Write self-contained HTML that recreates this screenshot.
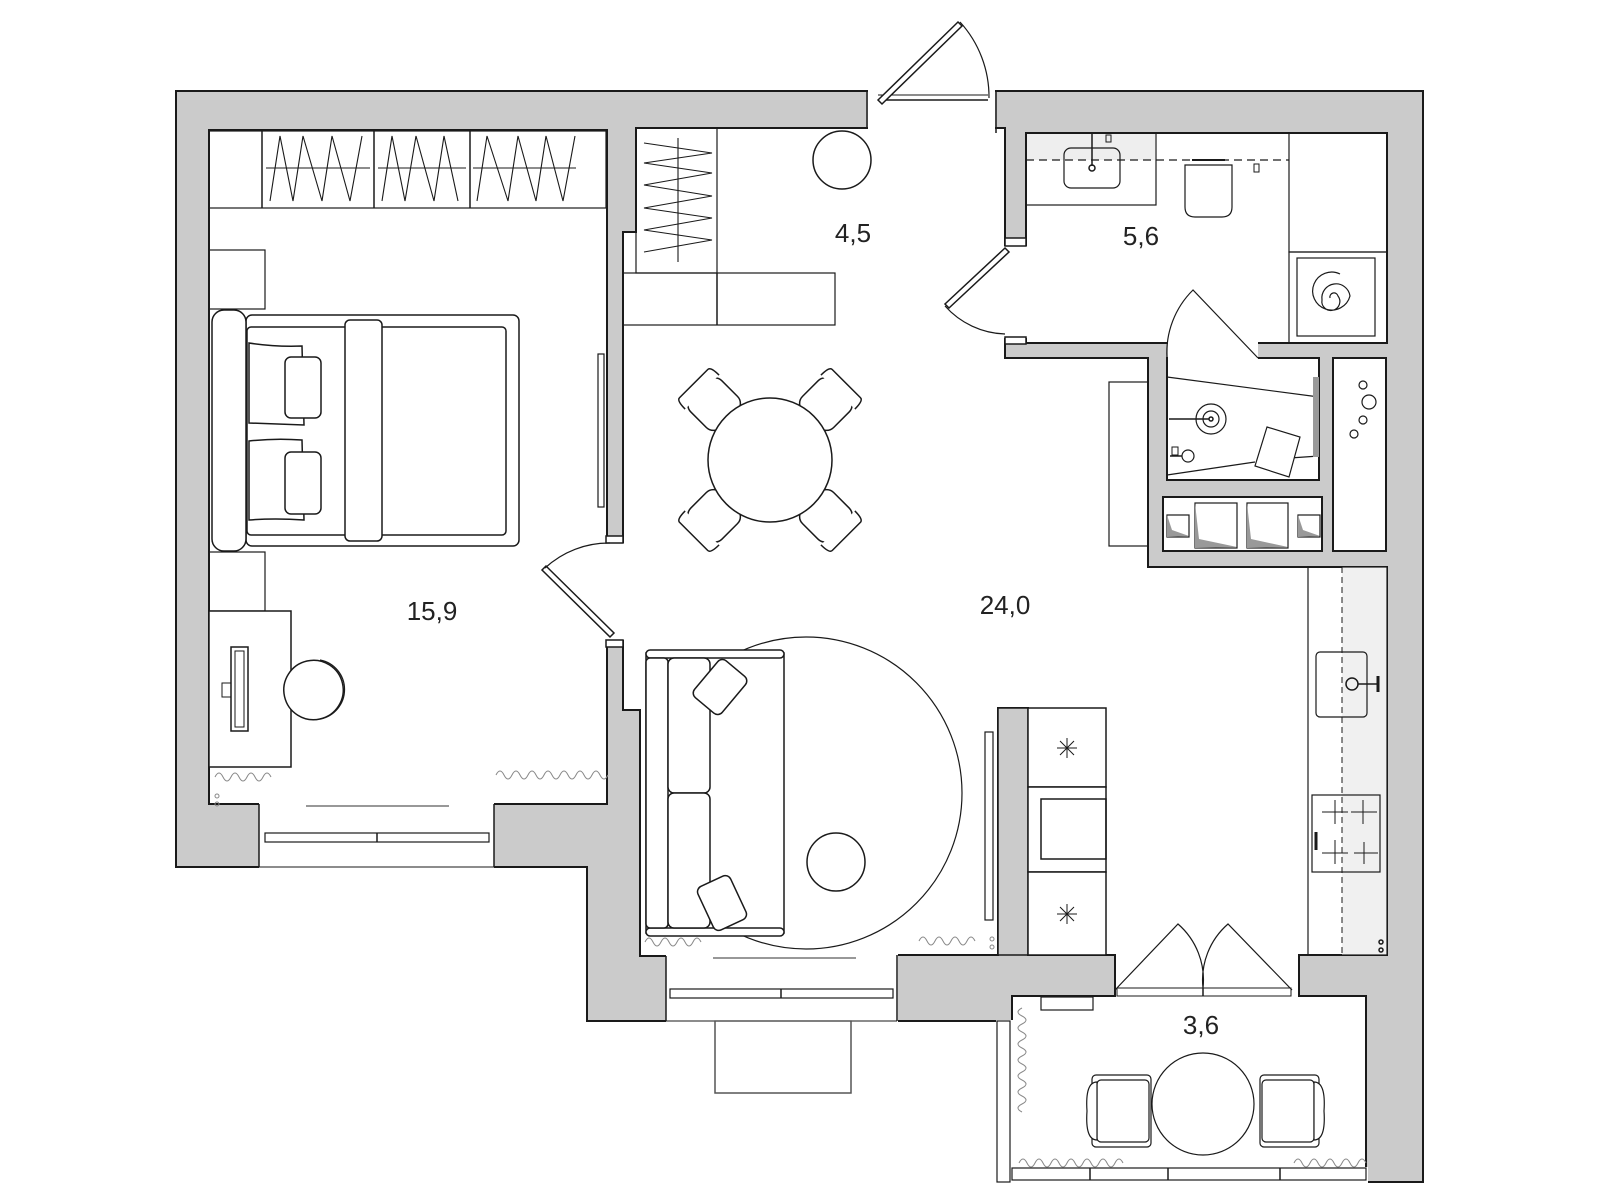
<!DOCTYPE html>
<html><head><meta charset="utf-8"><style>
html,body{margin:0;padding:0;background:#fff;width:1600px;height:1200px;overflow:hidden}
svg{display:block}
text{font-family:"Liberation Sans",sans-serif;font-size:26px;fill:#222;text-anchor:middle}
</style></head><body>
<svg width="1600" height="1200" viewBox="0 0 1600 1200" xmlns="http://www.w3.org/2000/svg">
<g stroke="#1a1a1a" stroke-width="2" stroke-linejoin="miter">
<!-- outer wall mass -->
<polygon fill="#cbcbcb" points="176,91 1423,91 1423,1182 997,1182 997,1021 587,1021 587,867 176,867"/>
<!-- bedroom -->
<rect x="209" y="130" width="398" height="674" fill="#fff"/>
<!-- main hall/living/kitchen -->
<polygon fill="#fff" points="636,128 1005,128 1005,358 1148,358 1148,567 1387,567 1387,955 1299,955 1299,996 1115,996 1115,955 1028,955 1028,708 998,708 998,955 897,955 897,956 640,956 640,710 623,710 623,232 636,232"/>
<!-- bathroom -->
<rect x="1026" y="133" width="361" height="210" fill="#fff"/>
<!-- shower -->
<rect x="1167" y="358" width="152" height="122" fill="#fff"/>
<rect x="1163" y="497" width="159" height="54" fill="#fff"/>
<rect x="1333" y="358" width="53" height="193" fill="#fff"/>
<!-- balcony -->
<rect x="1012" y="996" width="354" height="172" fill="#fff"/>
</g>
<!-- openings -->
<g fill="#fff" stroke="none">
<rect x="868" y="89" width="127" height="41"/>
<rect x="259" y="803" width="235" height="66"/>
<rect x="666" y="954" width="232" height="69"/>
<rect x="606" y="543" width="18" height="97"/>
<rect x="1004" y="246" width="23" height="92"/>
<rect x="1168" y="342" width="90" height="17"/>
<rect x="1116" y="953" width="182" height="45"/>
<rect x="996" y="1020" width="17" height="164"/>
<rect x="996" y="1167" width="372" height="17"/>
</g>
<g fill="none" stroke="#1a1a1a" stroke-width="1.5">
<!-- opening edge lines -->
<line x1="259" y1="867" x2="494" y2="867" stroke-width="1"/>
<line x1="259" y1="804" x2="259" y2="867"/><line x1="494" y1="804" x2="494" y2="867"/>
<line x1="666" y1="956" x2="666" y2="1021"/><line x1="897" y1="955" x2="897" y2="1021"/>
<line x1="666" y1="1021" x2="897" y2="1021" stroke-width="1"/>
<line x1="867" y1="91" x2="867" y2="128"/><line x1="996" y1="91" x2="996" y2="133"/>
<!-- windows -->
<rect x="265" y="833" width="224" height="9" stroke-width="1.2"/><line x1="377" y1="833" x2="377" y2="842"/>
<rect x="670" y="989" width="223" height="9" stroke-width="1.2"/><line x1="781" y1="989" x2="781" y2="998"/>
<rect x="997" y="1021" width="13" height="161" stroke-width="1.2"/>
<rect x="1012" y="1168" width="354" height="12" stroke-width="1.2"/>
<line x1="1090" y1="1168" x2="1090" y2="1180"/><line x1="1168" y1="1168" x2="1168" y2="1180"/><line x1="1280" y1="1168" x2="1280" y2="1180"/>
<!-- door frames -->
<rect x="606" y="640" width="17" height="7" fill="#fff"/>
<rect x="606" y="536" width="17" height="7" fill="#fff"/>
<rect x="1005" y="238" width="21" height="8" fill="#fff"/>
<rect x="1005" y="337" width="21" height="7" fill="#fff"/>
<line x1="878" y1="100" x2="988" y2="100"/><line x1="878" y1="95" x2="988" y2="95" stroke-width="1"/>
<!-- entrance door -->
<polygon points="878,100 958,22 962,26 882,104" fill="#fff"/>
<path d="M960,22 A111,111 0 0 1 989,98" stroke-width="1.2"/>
<!-- bathroom door -->
<polygon points="1005,248 945,304 949,308 1009,252" fill="#fff"/>
<path d="M945,306 A84,84 0 0 0 1005,334" stroke-width="1.2"/>
<!-- bedroom door -->
<polygon points="610,637 542,570 546,566 614,633" fill="#fff"/>
<path d="M545,568 A94,94 0 0 1 610,543" stroke-width="1.2"/>
<!-- shower door -->
<path d="M1167,358 A88,88 0 0 1 1193,290 L1258,358" stroke-width="1.2"/>
<!-- balcony doors -->
<path d="M1115,990 L1178,924 A74,74 0 0 1 1203,988 M1292,990 L1228,924 A74,74 0 0 0 1203,988" stroke-width="1.2"/>
<rect x="1117" y="988" width="174" height="8" stroke-width="1"/><line x1="1203" y1="988" x2="1203" y2="996"/>
<!-- outside box -->
<rect x="715" y="1021" width="136" height="72" stroke="#555"/>

<!-- ===== BEDROOM ===== -->
<rect x="209" y="131" width="397" height="77" stroke-width="1.2"/>
<line x1="262" y1="131" x2="262" y2="208"/><line x1="374" y1="131" x2="374" y2="208"/><line x1="470" y1="131" x2="470" y2="208"/>
<g stroke-width="1.1">
<line x1="266" y1="168" x2="370" y2="168"/><line x1="378" y1="168" x2="466" y2="168"/><line x1="473" y1="168" x2="576" y2="168"/>
<polyline points="270,201 280,136 293,201 303,136 322,201 332,136 350,201 362,136"/>
<polyline points="382,201 392,136 405,201 416,136 434,201 444,136 458,201"/>
<polyline points="477,201 487,136 508,201 518,136 536,201 546,136 563,201 575,136"/>
</g>
<rect x="209" y="250" width="56" height="59" stroke-width="1.2"/>
<rect x="209" y="552" width="56" height="59" stroke-width="1.2"/>
<rect x="246" y="315" width="273" height="231" rx="6" fill="#fff"/>
<rect x="247" y="327" width="259" height="208" rx="4"/>
<rect x="212" y="310" width="34" height="241" rx="12" fill="#fff"/>
<rect x="345" y="320" width="37" height="221" rx="5" fill="#fff"/>
<path d="M249,343 Q275,347 302,346 L304,425 Q275,424 249,423 Z" fill="#fff"/>
<rect x="285" y="357" width="36" height="61" rx="6" fill="#fff"/>
<path d="M249,441 Q275,438 302,440 L304,520 Q275,518 249,520 Z" fill="#fff"/>
<rect x="285" y="452" width="36" height="62" rx="6" fill="#fff"/>
<rect x="209" y="611" width="82" height="156" fill="#fff"/>
<rect x="231" y="647" width="17" height="84"/><rect x="235" y="651" width="9" height="76" stroke-width="1"/>
<rect x="222" y="683" width="9" height="14" stroke-width="1"/>
<path d="M307,661 A29,29 0 1 1 320,719 A29,29 0 0 1 307,661 Z" fill="#fff"/>
<path d="M320,660 A30,30 0 0 1 320,719" stroke-width="1.2"/>
<rect x="598" y="354" width="6" height="153" stroke-width="1.2"/>
<line x1="306" y1="806" x2="449" y2="806" stroke="#777"/>
<g stroke="#888" stroke-width="1">
<path d="M215,777 q4,-8 8,0 t8,0 t8,0 t8,0 t8,0 t8,0 t8,0"/>
<path d="M496,775 q4,-8 8,0 t8,0 t8,0 t8,0 t8,0 t8,0 t8,0 t8,0 t8,0 t8,0 t8,0 t8,0 t8,0 t8,0"/>
<circle cx="217" cy="796" r="2"/><circle cx="217" cy="804" r="2"/>
</g>

<!-- ===== HALL ===== -->
<rect x="636" y="128" width="81" height="145" stroke-width="1.2"/>
<g stroke-width="1.1">
<line x1="678" y1="138" x2="678" y2="262"/>
<polyline points="644,143 712,153 644,163 712,173 644,185 712,196 644,208 712,218 644,230 712,240 644,252"/>
</g>
<rect x="623" y="273" width="212" height="52" stroke-width="1.2"/><line x1="717" y1="273" x2="717" y2="325"/>
<circle cx="842" cy="160" r="29"/>

<!-- dining -->
<g fill="#fff">
<g transform="translate(770,460) rotate(-45)"><rect x="-22" y="-100" width="44" height="42" rx="10"/><path d="M-24,-96 Q-24,-108 -20,-108 L20,-108 Q24,-108 24,-96" /></g>
<g transform="translate(770,460) rotate(45)"><rect x="-22" y="-100" width="44" height="42" rx="10"/><path d="M-24,-96 Q-24,-108 -20,-108 L20,-108 Q24,-108 24,-96" /></g>
<g transform="translate(770,460) rotate(135)"><rect x="-22" y="-100" width="44" height="42" rx="10"/><path d="M-24,-96 Q-24,-108 -20,-108 L20,-108 Q24,-108 24,-96" /></g>
<g transform="translate(770,460) rotate(-135)"><rect x="-22" y="-100" width="44" height="42" rx="10"/><path d="M-24,-96 Q-24,-108 -20,-108 L20,-108 Q24,-108 24,-96" /></g>
<circle cx="770" cy="460" r="62"/>
</g>

<!-- ===== LIVING ===== -->
<circle cx="806" cy="793" r="156" stroke-width="1.2"/>
<g fill="#fff">
<rect x="646" y="653" width="138" height="280"/>
<rect x="646" y="650" width="138" height="8" rx="4"/>
<rect x="646" y="928" width="138" height="8" rx="4"/>
<rect x="646" y="658" width="22" height="270" rx="4"/>
<rect x="668" y="658" width="42" height="135" rx="6"/>
<rect x="668" y="793" width="42" height="135" rx="6"/>
<rect x="-24" y="-18" width="48" height="36" rx="6" transform="translate(720,687) rotate(-50)"/>
<rect x="-24" y="-18" width="48" height="36" rx="6" transform="translate(722,903) rotate(-25) rotate(90)"/>
</g>
<circle cx="836" cy="862" r="29"/>
<rect x="985" y="732" width="8" height="188" stroke-width="1.2"/>
<line x1="713" y1="958" x2="856" y2="958" stroke="#777"/>
<g stroke="#888" stroke-width="1">
<path d="M645,942 q4,-8 8,0 t8,0 t8,0 t8,0 t8,0 t8,0 t8,0"/>
<path d="M919,941 q4,-8 8,0 t8,0 t8,0 t8,0 t8,0 t8,0 t8,0"/>
<circle cx="992" cy="939" r="2"/><circle cx="992" cy="947" r="2"/>
</g>
<!-- fridge column -->
<rect x="998" y="708" width="30" height="247" fill="#cbcbcb"/>
<rect x="1028" y="708" width="78" height="79" fill="#fff"/>
<rect x="1028" y="787" width="78" height="85" fill="#fff"/>
<rect x="1041" y="799" width="65" height="60"/>
<rect x="1028" y="872" width="78" height="83" fill="#fff"/>
<g stroke-width="1"><path d="M1057,748 h20 M1067,738 v20 M1060,741 l14,14 M1074,741 l-14,14"/>
<path d="M1057,914 h20 M1067,904 v20 M1060,907 l14,14 M1074,907 l-14,14"/></g>

<!-- kitchen counter -->
<rect x="1342" y="567" width="45" height="388" fill="#f0f0f0" stroke="none"/>
<rect x="1308" y="567" width="79" height="388" stroke-width="1.2"/>
<line x1="1342" y1="567" x2="1342" y2="955" stroke-dasharray="6,4" stroke-width="1"/>
<rect x="1316" y="652" width="51" height="65" rx="4" stroke-width="1.2"/>
<circle cx="1352" cy="684" r="6"/><line x1="1358" y1="684" x2="1378" y2="684"/><line x1="1378" y1="676" x2="1378" y2="692" stroke-width="3"/>
<rect x="1312" y="795" width="68" height="77" stroke-width="1.2"/>
<g stroke-width="1"><path d="M1322,812 h26 M1335,800 v24 M1351,812 h26 M1363,800 v24 M1322,853 h26 M1335,840 v24 M1354,853 h24 M1364,842 v22"/></g>
<line x1="1316" y1="832" x2="1316" y2="850" stroke-width="3"/>
<circle cx="1381" cy="942" r="2"/><circle cx="1381" cy="950" r="2"/>

<!-- ===== BATHROOM ===== -->
<rect x="1027" y="134" width="128" height="26" fill="#eeeeee" stroke="none"/>
<rect x="1026" y="133" width="130" height="72" stroke-width="1.2"/>
<line x1="1026" y1="160" x2="1289" y2="160" stroke-dasharray="8,5" stroke-width="1.2"/>
<rect x="1064" y="148" width="56" height="40" rx="7" stroke-width="1.2"/>
<line x1="1092" y1="134" x2="1092" y2="166"/><circle cx="1092" cy="168" r="3"/>
<rect x="1106" y="135" width="5" height="7" stroke-width="1"/>
<path d="M1185,165 h47 v42 q0,10 -10,10 h-27 q-10,0 -10,-10 Z" stroke-width="1.2"/>
<line x1="1192" y1="160" x2="1225" y2="160" stroke-width="2"/>
<rect x="1254" y="164" width="5" height="8" stroke-width="1"/>
<rect x="1289" y="133" width="98" height="119" stroke-width="1.2"/>
<rect x="1289" y="252" width="98" height="91" stroke-width="1.2"/>
<rect x="1297" y="258" width="78" height="78" stroke-width="1.2"/>
<path d="M1330,298 a4,4 0 1 1 8,-2 a9,9 0 1 1 -16,4 a14,14 0 1 1 28,-4 a19,19 0 1 1 -10,-22" stroke-width="1.2"/>
<!-- hall cabinet -->
<rect x="1109" y="382" width="39" height="164" stroke-width="1.2"/>
<!-- shower -->
<path d="M1167,377 L1319,397 M1167,475 L1255,462 M1290,458 L1319,456" stroke-width="1.2"/>
<rect x="1313" y="377" width="6" height="80" fill="#999" stroke="none"/>
<circle cx="1211" cy="419" r="15" stroke-width="1.2"/><circle cx="1211" cy="419" r="8" stroke-width="1.2"/><circle cx="1211" cy="419" r="2"/>
<line x1="1169" y1="419" x2="1209" y2="419"/>
<circle cx="1188" cy="456" r="6" stroke-width="1.2"/><line x1="1170" y1="456" x2="1182" y2="456"/>
<rect x="1172" y="447" width="6" height="8" stroke-width="1"/>
<polygon points="1267,427 1300,437 1289,477 1255,466" fill="#fff" stroke-width="1.2"/>
<!-- niche boxes -->
<g stroke-width="1.2">
<rect x="1167" y="515" width="22" height="22"/><polygon points="1167,515 1172,530 1189,536 1167,537" fill="#999" stroke="none"/>
<rect x="1195" y="503" width="42" height="45"/><polygon points="1195,503 1199,539 1237,547 1195,548" fill="#999" stroke="none"/>
<rect x="1247" y="503" width="41" height="45"/><polygon points="1247,503 1251,539 1288,547 1247,548" fill="#999" stroke="none"/>
<rect x="1298" y="515" width="22" height="22"/><polygon points="1298,515 1303,530 1320,536 1298,537" fill="#999" stroke="none"/>
</g>
<circle cx="1363" cy="385" r="4" stroke-width="1.2"/><circle cx="1369" cy="402" r="7" stroke-width="1.2"/><circle cx="1363" cy="420" r="4" stroke-width="1.2"/><circle cx="1354" cy="434" r="4" stroke-width="1.2"/>

<!-- ===== BALCONY ===== -->
<rect x="1041" y="997" width="52" height="13" stroke-width="1.2"/>
<g fill="#fff" stroke-width="1.2">
<rect x="1092" y="1075" width="59" height="72" rx="4"/>
<rect x="1097" y="1080" width="52" height="62" rx="4"/>
<path d="M1097,1082 Q1085,1082 1087,1111 Q1085,1140 1097,1140 Z"/>
<rect x="1260" y="1075" width="59" height="72" rx="4"/>
<rect x="1262" y="1080" width="52" height="62" rx="4"/>
<path d="M1314,1082 Q1326,1082 1324,1111 Q1326,1140 1314,1140 Z"/>
<circle cx="1203" cy="1104" r="51"/>
</g>
<g stroke="#888" stroke-width="1">
<path d="M1022,1008 q-8,4 0,8 t0,8 t0,8 t0,8 t0,8 t0,8 t0,8 t0,8 t0,8 t0,8 t0,8 t0,8 t0,8"/>
<path d="M1019,1163 q4,-8 8,0 t8,0 t8,0 t8,0 t8,0 t8,0 t8,0 t8,0 t8,0 t8,0 t8,0 t8,0 t8,0"/>
<path d="M1294,1163 q4,-8 8,0 t8,0 t8,0 t8,0 t8,0 t8,0 t8,0 t8,0 t8,0"/>
</g>
</g>
<text x="432" y="620">15,9</text>
<text x="853" y="242">4,5</text>
<text x="1141" y="245">5,6</text>
<text x="1005" y="614">24,0</text>
<text x="1201" y="1034">3,6</text>
</svg>
</body></html>
